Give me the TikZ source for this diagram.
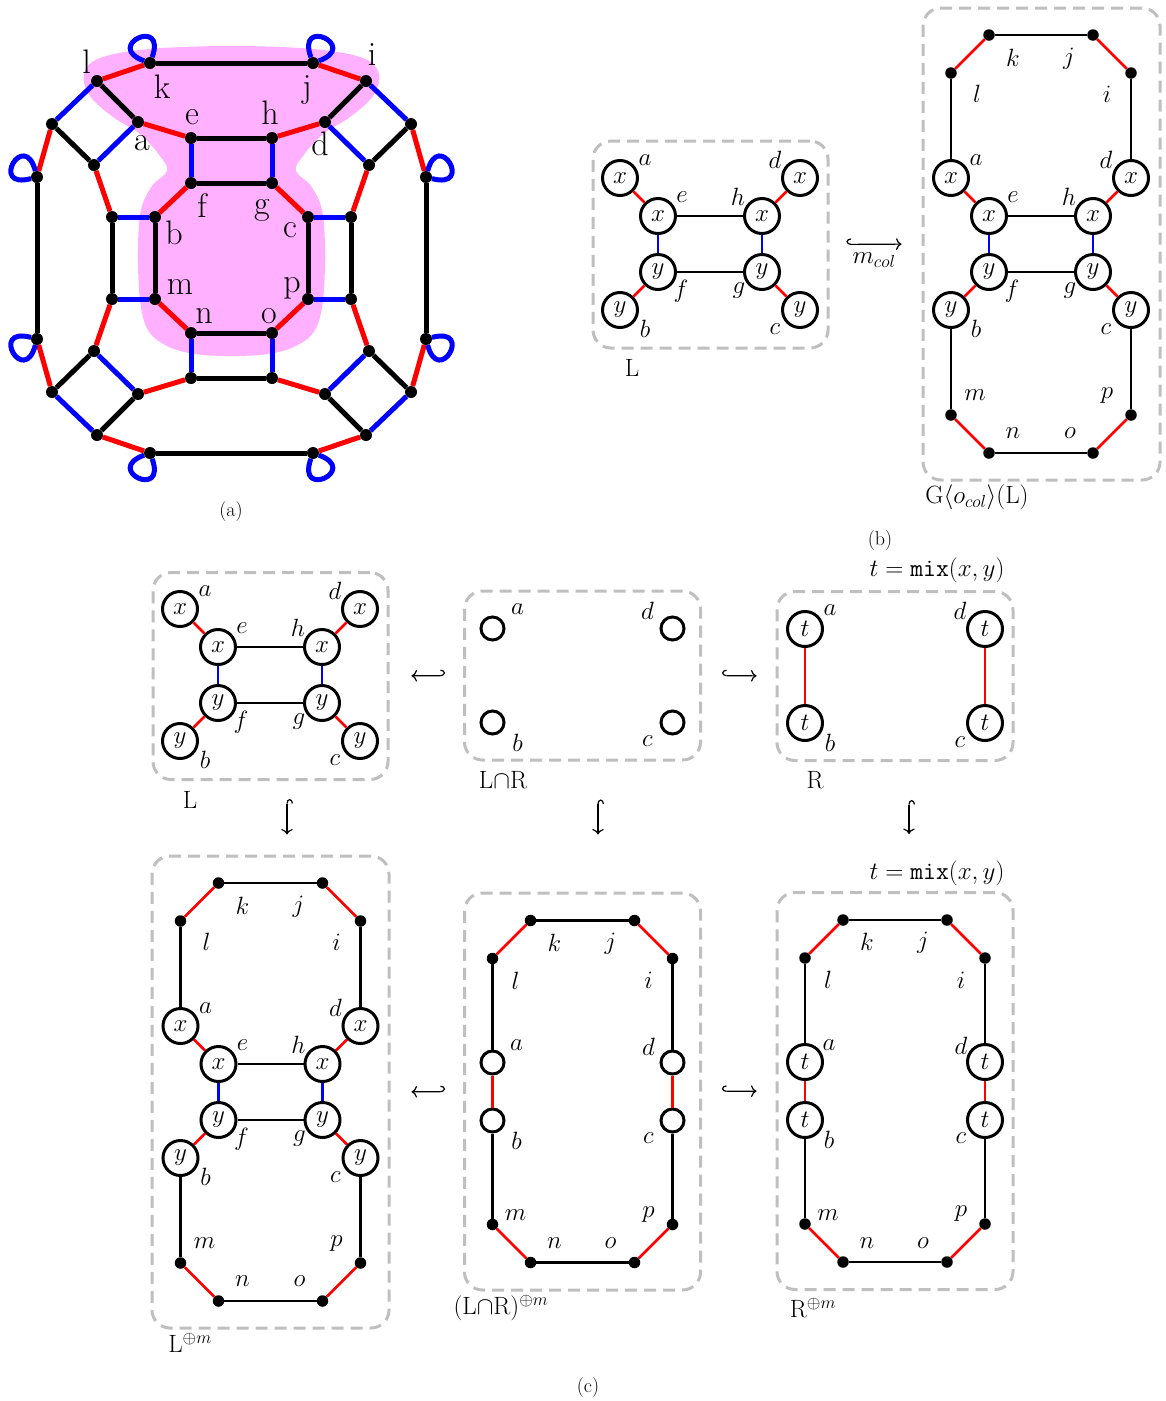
\RequirePackage{fix-cm}
\documentclass[tikz,border=0pt]{standalone}
\usetikzlibrary{arrows.meta}
\pgfdeclarelayer{pinklayer}
\pgfdeclarelayer{edgelayer}
\pgfsetlayers{pinklayer,edgelayer,main}
\definecolor{pinkc}{RGB}{255,176,255}
\tikzset{
  adot/.style={circle, fill=black, inner sep=0pt, minimum size=12pt},
  aedge/.style={line width=5pt},
  alab/.style={font=\fontsize{34}{40}\selectfont, inner sep=0pt},
  vnode/.style={circle, draw, line width=3pt, minimum size=35pt, inner sep=0pt, fill=white, font=\fontsize{25}{29}\selectfont},
  enode/.style={circle, draw, line width=3pt, minimum size=23pt, inner sep=0pt, fill=white},
  bdot/.style={circle, fill=black, inner sep=0pt, minimum size=11.5pt},
  bedge/.style={line width=2.6pt},
  blab/.style={font=\fontsize{25}{29}\selectfont, inner sep=0pt},
  capt/.style={font=\fontsize{25}{29}\selectfont, inner sep=0pt},
  subcapt/.style={font=\fontsize{20}{24}\selectfont, inner sep=0pt},
  boxst/.style={draw=gray!50, line width=3pt, dash pattern=on 12pt off 7pt, rounded corners=18pt, inner sep=0pt},
  hookr/.style={line width=1.2pt, arrows={Hooks[right,length=4.5pt,width=12pt]-To[scale=1.3]}},
  hookl/.style={line width=1.2pt, arrows={Hooks[left,length=4.5pt,width=12pt]-To[scale=1.3]}}
}
\newcommand{\DrawLinner}{%
  \node[vnode] (a) at (-90,-66) {$x$};
  \node[vnode] (d) at (90,-66) {$x$};
  \node[vnode] (e) at (-52,-28) {$x$};
  \node[vnode] (h) at (52,-28) {$x$};
  \node[vnode] (f) at (-52,28) {$y$};
  \node[vnode] (g) at (52,28) {$y$};
  \node[vnode] (b) at (-90,66) {$y$};
  \node[vnode] (c) at (90,66) {$y$};
  \draw[bedge,red] (a) -- (e);
  \draw[bedge,red] (d) -- (h);
  \draw[bedge,red] (f) -- (b);
  \draw[bedge,red] (g) -- (c);
  \draw[bedge] (e) -- (h);
  \draw[bedge] (f) -- (g);
  \draw[bedge,blue] (e) -- (f);
  \draw[bedge,blue] (h) -- (g);
  \node[blab] (la) at (-65,-84) {$a$};
  \node[blab] (ld) at (65,-84) {$d$};
  \node[blab] (le) at (-28,-47) {$e$};
  \node[blab] (lh) at (28,-47) {$h$};
  \node[blab] (lf) at (-29,47) {$f$};
  \node[blab] (lg) at (29,47) {$g$};
  \node[blab] (lb) at (-65,85) {$b$};
  \node[blab] (lc) at (65,85) {$c$};
}
\newcommand{\DrawGouter}{%
  \node[bdot] (k) at (-52,-209) {};
  \node[bdot] (j) at (52,-209) {};
  \node[bdot] (l) at (-90,-171) {};
  \node[bdot] (i) at (90,-171) {};
  \node[bdot] (m) at (-90,171) {};
  \node[bdot] (p) at (90,171) {};
  \node[bdot] (n) at (-52,209) {};
  \node[bdot] (o) at (52,209) {};
  \draw[bedge,red] (l) -- (k);
  \draw[bedge,red] (j) -- (i);
  \draw[bedge,red] (m) -- (n);
  \draw[bedge,red] (o) -- (p);
  \draw[bedge] (k) -- (j);
  \draw[bedge] (n) -- (o);
  \draw[bedge] (l) -- (a);
  \draw[bedge] (i) -- (d);
  \draw[bedge] (b) -- (m);
  \draw[bedge] (c) -- (p);
  \node[blab] (lk) at (-28,-186) {$k$};
  \node[blab] (lj) at (28,-185) {$j$};
  \node[blab] (ll) at (-64,-150) {$l$};
  \node[blab] (li) at (66,-150) {$i$};
  \node[blab] (lm) at (-66,151) {$m$};
  \node[blab] (lp) at (66,152) {$p$};
  \node[blab] (ln) at (-28,189) {$n$};
  \node[blab] (lo) at (29,189) {$o$};
}
\newcommand{\DrawHexa}[2]{%
  \node[#1] (a) at (-90,-29) {#2};
  \node[#1] (d) at (90,-29) {#2};
  \node[#1] (b) at (-90,29) {#2};
  \node[#1] (c) at (90,29) {#2};
  \node[bdot] (k) at (-52,-171) {};
  \node[bdot] (j) at (52,-171) {};
  \node[bdot] (l) at (-90,-133) {};
  \node[bdot] (i) at (90,-133) {};
  \node[bdot] (m) at (-90,133) {};
  \node[bdot] (p) at (90,133) {};
  \node[bdot] (n) at (-52,171) {};
  \node[bdot] (o) at (52,171) {};
  \draw[bedge,red] (l) -- (k);
  \draw[bedge,red] (j) -- (i);
  \draw[bedge,red] (a) -- (b);
  \draw[bedge,red] (d) -- (c);
  \draw[bedge,red] (m) -- (n);
  \draw[bedge,red] (o) -- (p);
  \draw[bedge] (k) -- (j);
  \draw[bedge] (l) -- (a);
  \draw[bedge] (i) -- (d);
  \draw[bedge] (b) -- (m);
  \draw[bedge] (c) -- (p);
  \draw[bedge] (n) -- (o);
  \node[blab] (lk) at (-28,-149) {$k$};
  \node[blab] (lj) at (28,-148) {$j$};
  \node[blab] (ll) at (-67,-111) {$l$};
  \node[blab] (li) at (66,-111) {$i$};
  \node[blab] (la) at (-66,-46) {$a$};
  \node[blab] (ld) at (66,-45) {$d$};
  \node[blab] (lb) at (-66,49) {$b$};
  \node[blab] (lc) at (66,47) {$c$};
  \node[blab] (lm) at (-67,124) {$m$};
  \node[blab] (lp) at (66,123) {$p$};
  \node[blab] (ln) at (-28,152) {$n$};
  \node[blab] (lo) at (28,152) {$o$};
}
\newcommand{\DrawFour}[2]{%
  \node[#1] (a) at (-90,-47) {#2};
  \node[#1] (d) at (90,-47) {#2};
  \node[#1] (b) at (-90,47) {#2};
  \node[#1] (c) at (90,47) {#2};
  \node[blab] (la) at (-65,-66) {$a$};
  \node[blab] (ld) at (65,-65) {$d$};
  \node[blab] (lb) at (-65,67) {$b$};
  \node[blab] (lc) at (65,66) {$c$};
}
\begin{document}
\begin{tikzpicture}[x=1pt,y=-1pt]
\useasboundingbox (0,0) rectangle (1166,1401);

% ---------------- (a) ----------------
\begin{pgfonlayer}{pinklayer}
\fill[pinkc] plot[smooth cycle, tension=0.6] coordinates {(231.5,46) (313,49) (363,58) (379,74) (373,96) (350,117) (323,134) (303,156) (296,171) (311,186) (322,210) (325,250) (323,300) (315,330) (296,346) (268,354) (231.5,356) (195,354) (167,346) (148,330) (140,300) (138,250) (141,210) (152,186) (167,171) (160,156) (140,134) (113,117) (90,96) (84,74) (100,58) (150,49)};
\end{pgfonlayer}

\foreach \n/\x/\y in {k/150/63, j/313/63, l/97/81, i/366/81, a/138/122, d/325/122, e/191/138, h/272/138, f/191/183, g/272/183, sA/52/124, sB/94/165, sC/411/124, sD/369/165, L/37/177, R/426/177, b/155/217, qA/112/217, c/308/217, qB/351/217, m/155/299, qC/112/299, p/308/299, qD/351/299, n/191/333, o/272/333, nb/191/378, ob/272/378, aa/138/394, dd/325/394, sBB/94/351, sAA/52/392, ll/97/435, kk/150/453, sDD/369/351, sCC/411/392, ii/366/435, jj/313/453, LL/37/339, RR/426/339}
  \node[adot] (A\n) at (\x,\y) {};

\begin{pgfonlayer}{edgelayer}
\foreach \u/\v in {k/j, l/a, i/d, sA/sB, sC/sD, L/LL, R/RR, e/h, f/g, qA/qC, b/m, c/p, qB/qD, n/o, nb/ob, sBB/sAA, aa/ll, sDD/sCC, dd/ii, kk/jj}
  \draw[aedge] (A\u) -- (A\v);
\foreach \u/\v in {l/k, j/i, sA/L, sC/R, sB/qA, sD/qB, a/e, d/h, f/b, g/c, m/n, p/o, qC/sBB, qD/sDD, nb/aa, ob/dd, LL/sAA, RR/sCC, ll/kk, ii/jj}
  \draw[aedge,red] (A\u) -- (A\v);
\foreach \u/\v in {l/sA, i/sC, a/sB, d/sD, e/f, h/g, qA/b, qB/c, qC/m, qD/p, n/nb, o/ob, sBB/aa, sDD/dd, sAA/ll, sCC/ii}
  \draw[aedge,blue] (A\u) -- (A\v);
\draw[aedge,blue] (Ak) .. controls +(17.1,-47) and +(-47,-17.1) .. (Ak);
\draw[aedge,blue] (Aj) .. controls +(47,-17.1) and +(-17.1,-47) .. (Aj);
\draw[aedge,blue] (AL) .. controls +(-12.9,-48.3) and +(-48.3,12.9) .. (AL);
\draw[aedge,blue] (AR) .. controls +(48.3,12.9) and +(12.9,-48.3) .. (AR);
\draw[aedge,blue] (ALL) .. controls +(-48.3,-12.9) and +(-12.9,48.3) .. (ALL);
\draw[aedge,blue] (ARR) .. controls +(12.9,48.3) and +(48.3,-12.9) .. (ARR);
\draw[aedge,blue] (Akk) .. controls +(-47,17.1) and +(17.1,47) .. (Akk);
\draw[aedge,blue] (Ajj) .. controls +(-17.1,47) and +(47,17.1) .. (Ajj);
\end{pgfonlayer}

\foreach \t/\x/\y in {l/86.7/61.7, k/162/86.7, j/307/90, i/372/55, e/192/116.7, h/270/112.5, a/142/143, d/320/144, f/202/206, g/262/210, b/174/233, c/290/230, m/180/287.5, p/292/288, n/204/316, o/269/316}
  \node[alab] (T\t) at (\x,\y) {\t};
\node[subcapt] (capa) at (231,512) {(a)};

% ---------------- (b) ----------------
\begin{scope}[shift={(710,244)}, name prefix=bL-]
  \node[boxst, minimum width=235pt, minimum height=207pt] (box) at (0.5,0.5) {};
  \DrawLinner
\end{scope}
\node[capt] (capbL) at (632,368) {L};

\begin{scope}[shift={(1041,244)}, name prefix=bG-]
  \node[boxst, minimum width=237pt, minimum height=472pt] (box) at (0.5,0) {};
  \DrawLinner
  \DrawGouter
\end{scope}
\node[capt] (capbG) at (977,497) {G$\langle o_{col}\rangle$(L)};

\draw[hookr, shorten <=17pt, shorten >=20pt] (bL-box.east) -- (bG-box.west);
\node[blab] (mcol) at (874,260) {$m_{col}$};
\node[subcapt] (capb) at (880,541) {(b)};

% ---------------- (c) row 1 ----------------
\begin{scope}[shift={(270,675)}, name prefix=cL-]
  \node[boxst, minimum width=235pt, minimum height=207pt] (box) at (0.5,1) {};
  \DrawLinner
\end{scope}
\node[capt] (capcL) at (190,800) {L};

\begin{scope}[shift={(582.5,675.5)}, name prefix=cI-]
  \node[boxst, minimum width=236pt, minimum height=169pt] (box) at (0,0) {};
  \DrawFour{enode}{}
\end{scope}
\node[capt] (capcI) at (503,780) {L$\cap$R};

\begin{scope}[shift={(895,676)}, name prefix=cR-]
  \node[boxst, minimum width=236pt, minimum height=169pt] (box) at (0,0) {};
  \DrawFour{vnode}{$t$}
  \draw[bedge,red] (a) -- (b);
  \draw[bedge,red] (d) -- (c);
\end{scope}
\node[capt] (capcR) at (815,780) {R};
\node[capt] (mix1) at (937,570) {$t=\mathtt{mix}(x,y)$};

% ---------------- (c) row 2 ----------------
\begin{scope}[shift={(270.5,1092)}, name prefix=cLm-]
  \node[boxst, minimum width=237pt, minimum height=472pt] (box) at (0,0) {};
  \DrawLinner
  \DrawGouter
\end{scope}
\node[capt] (capcLm) at (190,1343) {L$^{\oplus m}$};

\begin{scope}[shift={(582.5,1091.5)}, name prefix=cIm-]
  \node[boxst, minimum width=236pt, minimum height=397pt] (box) at (0,0) {};
  \DrawHexa{enode}{}
\end{scope}
\node[capt] (capcIm) at (501,1308) {(L$\cap$R)$^{\oplus m}$};

\begin{scope}[shift={(895,1091)}, name prefix=cRm-]
  \node[boxst, minimum width=236pt, minimum height=397pt] (box) at (0,0) {};
  \DrawHexa{vnode}{$t$}
\end{scope}
\node[capt] (capcRm) at (813,1308) {R$^{\oplus m}$};
\node[capt] (mix2) at (937,873) {$t=\mathtt{mix}(x,y)$};

% arrows
\draw[hookl, shorten <=18pt, shorten >=22pt] (cI-box.west) -- (cL-box.east);
\draw[hookr, shorten <=20pt, shorten >=19pt] (cI-box.east) -- (cR-box.west);
\draw[hookr, shorten <=18pt, shorten >=20pt] ([xshift=16.5pt]cL-box.south) -- ([xshift=16.5pt]cLm-box.north);
\draw[hookr, shorten <=38pt, shorten >=57pt] ([xshift=15.5pt]cI-box.south) -- ([xshift=15.5pt]cIm-box.north);
\draw[hookr, shorten <=38pt, shorten >=57pt] ([xshift=14pt]cR-box.south) -- ([xshift=14pt]cRm-box.north);
\draw[hookl, shorten <=18pt, shorten >=21pt] (cIm-box.west) -- (cLm-box.east);
\draw[hookr, shorten <=20pt, shorten >=19pt] (cIm-box.east) -- (cRm-box.west);
\node[subcapt] (capc) at (588,1387) {(c)};
\end{tikzpicture}
\end{document}
